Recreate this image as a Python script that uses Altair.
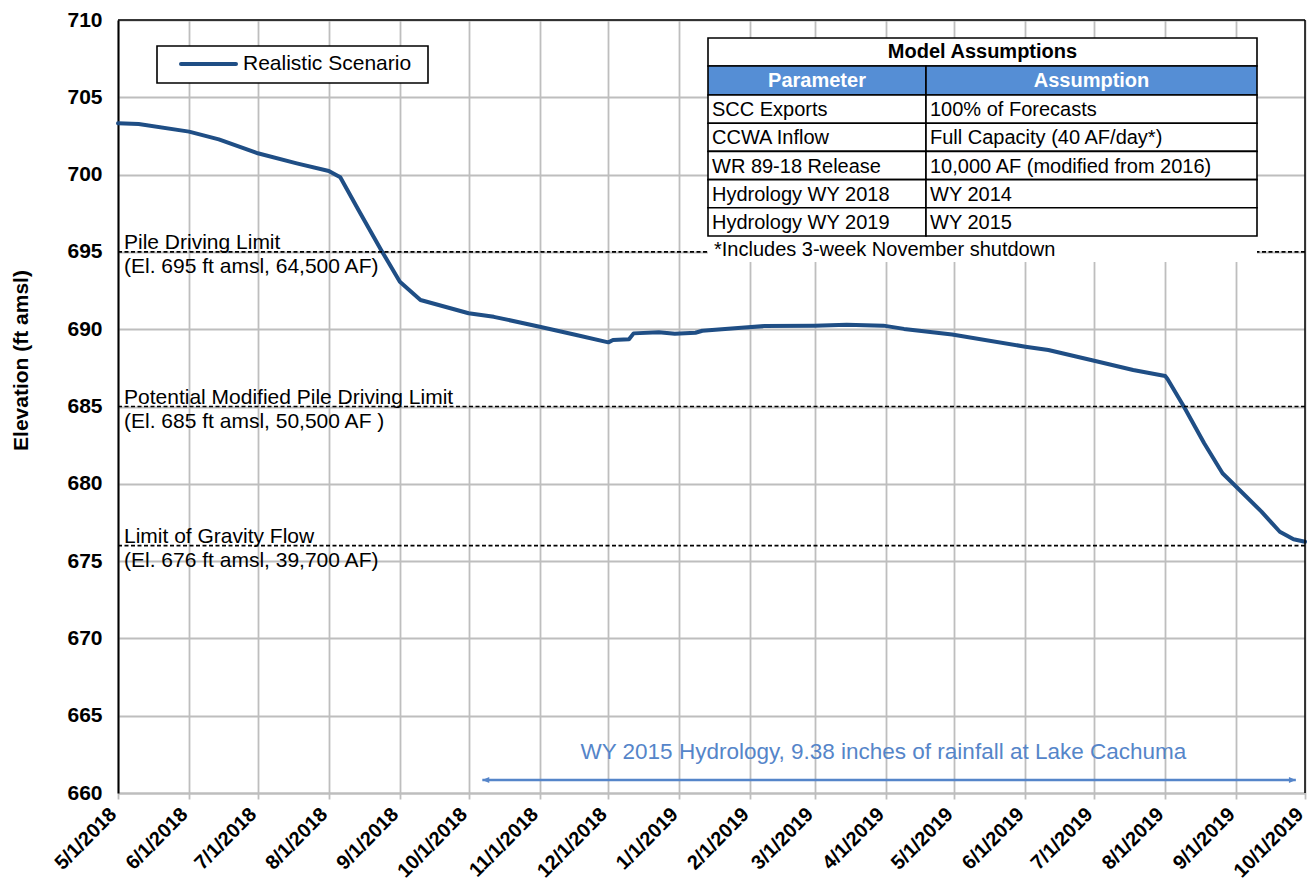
import altair as alt
import pandas as pd

# ---------------- data ----------------
dates = [
    "2018-05-01", "2018-05-10", "2018-06-01", "2018-06-14", "2018-07-01", "2018-07-18",
    "2018-08-01", "2018-08-06", "2018-08-14", "2018-08-24", "2018-09-01", "2018-09-10",
    "2018-10-01", "2018-10-12", "2018-11-01", "2018-11-17", "2018-12-01", "2018-12-03",
    "2018-12-10", "2018-12-12", "2018-12-23", "2018-12-30", "2019-01-08", "2019-01-11",
    "2019-01-28", "2019-02-07", "2019-03-01", "2019-03-15", "2019-03-31", "2019-04-09",
    "2019-04-30", "2019-06-01", "2019-06-11", "2019-07-01", "2019-07-18", "2019-08-01",
    "2019-08-02", "2019-08-09", "2019-08-18", "2019-08-26", "2019-09-01", "2019-09-12",
    "2019-09-20", "2019-09-26", "2019-10-01",
]
elevation = [
    703.32, 703.27, 702.78, 702.28, 701.38, 700.73,
    700.23, 699.83, 697.70, 695.08, 693.07, 691.89,
    691.03, 690.80, 690.16, 689.62, 689.15, 689.30,
    689.35, 689.73, 689.80, 689.71, 689.77, 689.90,
    690.10, 690.20, 690.23, 690.29, 690.23, 690.02,
    689.66, 688.87, 688.65, 687.96, 687.36, 686.97,
    686.78, 685.03, 682.62, 680.68, 679.81, 678.20,
    676.90, 676.41, 676.25,
]
series_name = "Realistic Scenario"

limit_levels = [695, 685, 676]
limit_titles = ["Pile Driving Limit", "Potential Modified Pile Driving Limit", "Limit of Gravity Flow"]
limit_details = ["(El. 695 ft amsl, 64,500 AF)", "(El. 685 ft amsl, 50,500 AF )", "(El. 676 ft amsl, 39,700 AF)"]

table_title = "Model Assumptions"
table_headers = ["Parameter", "Assumption"]
table_params = ["SCC Exports", "CCWA Inflow", "WR 89-18 Release", "Hydrology WY 2018", "Hydrology WY 2019"]
table_values = ["100% of Forecasts", "Full Capacity (40 AF/day*)", "10,000 AF (modified from 2016)", "WY 2014", "WY 2015"]
footnote = "*Includes 3-week November shutdown"

wy_text = "WY 2015 Hydrology,  9.38 inches of rainfall at Lake Cachuma"
wy_arrow_start = "2018-10-07"
wy_arrow_end = "2019-09-27"
wy_arrow_level = 660.84
wy_text_date = "2019-03-31"
wy_text_level = 662.65

y_ticks = list(range(660, 711, 5))

# ---------------- styling ----------------
FONT = "Liberation Sans"
W, H = 1187, 773
LINE_COLOR = "#1F4E85"
GRID = "#BEBEBE"
BLUE = "#5585C9"
HEADER_BLUE = "#558ED5"

df = pd.DataFrame({"date": pd.to_datetime(dates), "elev": elevation})
one = pd.DataFrame({"k": [0]})

x_scale = alt.Scale(domain=[alt.DateTime(year=2018, month=5, date=1),
                            alt.DateTime(year=2019, month=10, date=1)], nice=False)
y_scale = alt.Scale(domain=[660, 710], nice=False, zero=False)

line = alt.Chart(df).mark_line(color=LINE_COLOR, strokeWidth=4, strokeCap="round",
                               strokeJoin="round").encode(
    x=alt.X("date:T", scale=x_scale,
            axis=alt.Axis(format="%-m/%-d/%Y", tickCount={"interval": "month", "step": 1},
                          labelAngle=-45, labelAlign="right", labelBaseline="middle",
                          labelFont=FONT, labelFontSize=20, labelFontWeight="bold",
                          labelColor="#000000", labelPadding=12, labelOffset=-5,
                          labelFlush=False, labelOverlap=False, labelBound=False,
                          tickColor=GRID, tickSize=6, tickWidth=1.8,
                          domainColor=GRID, domainWidth=2, gridColor=GRID, gridWidth=1.8,
                          title=None)),
    y=alt.Y("elev:Q", scale=y_scale,
            axis=alt.Axis(values=y_ticks, labelFont=FONT, labelFontSize=21,
                          labelFontWeight="bold", labelColor="#000000", ticks=False,
                          labelPadding=16, domainColor="#000000", domainWidth=2,
                          gridColor=GRID, gridWidth=1.8,
                          title="Elevation (ft amsl)", titleFont=FONT, titleFontSize=21,
                          titleFontWeight="bold", titleColor="#000000",
                          titleX=-97, titleY=340, titleAngle=-90,
                          titleAlign="center", titleBaseline="middle")),
)

limits_df = pd.DataFrame({"level": limit_levels, "title": limit_titles, "detail": limit_details})
limit_rules = alt.Chart(limits_df).mark_rule(color="#000000", strokeWidth=1.6,
                                             strokeDash=[4, 2.5]).encode(
    y=alt.Y("level:Q", scale=y_scale))
limit_top = alt.Chart(limits_df).mark_text(align="left", baseline="alphabetic", dy=-3,
                                           font=FONT, fontSize=21, color="#000000").encode(
    x=alt.value(6), y=alt.Y("level:Q", scale=y_scale), text="title:N")
limit_bottom = alt.Chart(limits_df).mark_text(align="left", baseline="top", dy=4,
                                              font=FONT, fontSize=21, color="#000000").encode(
    x=alt.value(6), y=alt.Y("level:Q", scale=y_scale), text="detail:N")

# borders (top / right)
top_border = alt.Chart(one).mark_rule(color="#000000", strokeWidth=1.5).encode(
    x=alt.value(0), x2=alt.value(W), y=alt.value(0))
right_border = alt.Chart(one).mark_rule(color="#000000", strokeWidth=1.5).encode(
    x=alt.value(W), y=alt.value(0), y2=alt.value(H))

layers = [line, limit_rules, limit_top, limit_bottom, top_border, right_border]


def rect(x1, x2, y1, y2, fill, stroke=None, sw=0):
    kw = dict(fill=fill)
    if stroke:
        kw.update(stroke=stroke, strokeWidth=sw)
    return alt.Chart(one).mark_rect(**kw).encode(
        x=alt.value(x1), x2=alt.value(x2), y=alt.value(y1), y2=alt.value(y2))


def text(s, x, y, align="left", size=20, weight="normal", color="#000000"):
    return alt.Chart(one).mark_text(text=s, align=align, baseline="middle", font=FONT,
                                    fontSize=size, fontWeight=weight, color=color).encode(
        x=alt.value(x), y=alt.value(y))


# ---- table ----
TX1, TX2, TXM = 590, 1139, 808
TY0, TY1, TY2 = 18, 46, 75
ROW_H = (216 - TY2) / len(table_params)
layers.append(rect(TX1, TX2, TY0, 242, "#ffffff"))
layers.append(rect(TX1, TX2, TY0, TY1, "#ffffff", "#000000", 1.6))
layers.append(rect(TX1, TXM, TY1, TY2, HEADER_BLUE, "#000000", 1.6))
layers.append(rect(TXM, TX2, TY1, TY2, HEADER_BLUE, "#000000", 1.6))
layers.append(text(table_title, (TX1 + TX2) / 2, (TY0 + TY1) / 2, "center", 20, "bold"))
layers.append(text(table_headers[0], (TX1 + TXM) / 2, (TY1 + TY2) / 2, "center", 20, "bold", "#ffffff"))
layers.append(text(table_headers[1], (TXM + TX2) / 2, (TY1 + TY2) / 2, "center", 20, "bold", "#ffffff"))
for i, (p, v) in enumerate(zip(table_params, table_values)):
    ya = TY2 + i * ROW_H
    yb = ya + ROW_H
    layers.append(rect(TX1, TXM, ya, yb, "#ffffff", "#000000", 1.6))
    layers.append(rect(TXM, TX2, ya, yb, "#ffffff", "#000000", 1.6))
    layers.append(text(p, TX1 + 4, (ya + yb) / 2 + 1))
    layers.append(text(v, TXM + 4, (ya + yb) / 2 + 1))
layers.append(text(footnote, TX1 + 6, 230))

# ---- legend ----
layers.append(rect(39, 310, 26, 63, "#ffffff", "#000000", 1.6))
layers.append(alt.Chart(one).mark_rule(color=LINE_COLOR, strokeWidth=4, strokeCap="round").encode(
    x=alt.value(63), x2=alt.value(118), y=alt.value(44)))
layers.append(text(series_name, 125, 44, "left", 21))

# ---- WY 2015 arrow ----
arrow_df = pd.DataFrame({"d1": pd.to_datetime([wy_arrow_start]), "d2": pd.to_datetime([wy_arrow_end]),
                         "lvl": [wy_arrow_level]})
layers.append(alt.Chart(arrow_df).mark_rule(color=BLUE, strokeWidth=2.5).encode(
    x=alt.X("d1:T", scale=x_scale), x2="d2:T", y=alt.Y("lvl:Q", scale=y_scale)))
layers.append(alt.Chart(arrow_df).mark_point(shape="M0,0L1,-0.42L1,0.42Z", size=190,
                                             filled=True, color=BLUE, opacity=1).encode(
    x=alt.X("d1:T", scale=x_scale), y=alt.Y("lvl:Q", scale=y_scale)))
layers.append(alt.Chart(arrow_df).mark_point(shape="M0,0L-1,-0.42L-1,0.42Z", size=190,
                                             filled=True, color=BLUE, opacity=1).encode(
    x=alt.X("d2:T", scale=x_scale), y=alt.Y("lvl:Q", scale=y_scale)))
wy_df = pd.DataFrame({"d": pd.to_datetime([wy_text_date]), "lvl": [wy_text_level], "t": [wy_text]})
layers.append(alt.Chart(wy_df).mark_text(align="center", baseline="middle", font=FONT,
                                         fontSize=22.5, color=BLUE).encode(
    x=alt.X("d:T", scale=x_scale), y=alt.Y("lvl:Q", scale=y_scale), text="t:N"))

chart = alt.layer(*layers).properties(
    width=W, height=H,
    padding={"left": 110, "top": 12, "right": 3, "bottom": 87},
    autosize=alt.AutoSizeParams(type="none"),
).configure_view(stroke=None).configure(background="#ffffff")

chart.save("out.html", embed_options={"renderer": "svg", "actions": False})
